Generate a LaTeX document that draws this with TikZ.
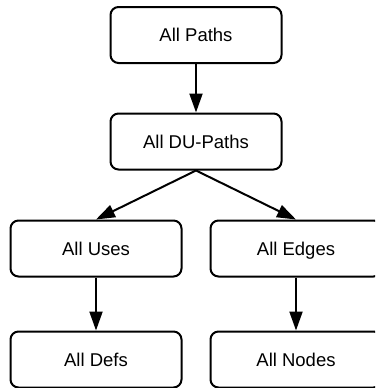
\documentclass[tikz,border=0pt]{standalone}
\usepackage{fontspec}
\setmainfont{Liberation Sans}
\usetikzlibrary{arrows.meta}
\begin{document}
\begin{tikzpicture}[x=1pt,y=-1pt,
  box/.style={draw=black, line width=2pt, rounded corners=8pt, minimum width=171pt, minimum height=56pt, inner sep=0pt, text height=13.3pt, text depth=0pt, font=\fontsize{18.5}{20}\selectfont},
  arr/.style={line width=2pt, -{Triangle[length=19pt,width=13pt]}}]
\useasboundingbox (0,0) rectangle (375,388);
\clip (0,0) rectangle (375,388);
\node[box] (paths) at (196,35) {All Paths};
\node[box] (du) at (196,141.5) {All DU-Paths};
\node[box] (uses) at (96,248.5) {All Uses};
\node[box] (edges) at (296,248.5) {All Edges};
\node[box] (defs) at (96,359.5) {All Defs};
\node[box] (nodes) at (296,359.5) {All Nodes};
\draw[arr] (paths.south) -- (du.north);
\draw[arr] (du.south) -- (uses.north);
\draw[arr] (du.south) -- (edges.north);
\draw[arr] (uses.south) -- (defs.north);
\draw[arr] (edges.south) -- (nodes.north);
\end{tikzpicture}
\end{document}
